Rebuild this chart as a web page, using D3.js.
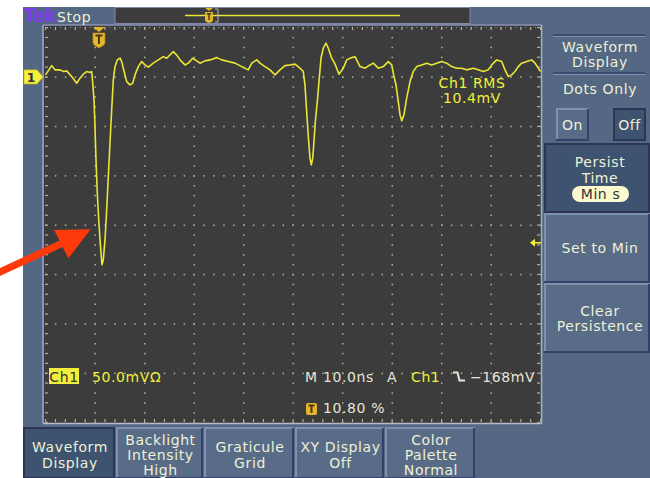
<!DOCTYPE html>
<html><head><meta charset="utf-8">
<script src="https://cdn.jsdelivr.net/npm/d3@7"></script>
<style>
html,body{margin:0;padding:0;background:#fff;}
svg{display:block;font-family:"DejaVu Sans",sans-serif;}
</style></head>
<body>
<svg id="c" width="650" height="478"></svg>
<script>
// ---- data (time in ns across the 100 ns record, voltage in mV) ----
const times = [0,1.25,1.92,2.93,3.6,4.28,5.29,6.3,6.97,7.64,8.32,8.99,9.33,9.54,9.8,10.0,10.2,10.46,10.75,11.01,11.21,11.41,11.68,12.02,12.36,12.69,13.03,13.37,13.7,14.04,14.5,15.05,15.39,15.72,16.4,17.07,17.62,18.08,18.75,19.43,20.1,20.77,21.78,22.79,23.8,24.48,25.82,26.5,27.17,28.18,28.85,29.74,30.55,31.21,32.22,33.23,34.59,35.6,36.93,38.28,39.64,40.97,41.66,42.67,43.33,44.34,45.35,46.36,47.37,48.38,49.39,50.4,51.41,52.08,52.42,52.63,52.89,53.17,53.43,53.7,53.98,54.24,54.51,54.91,55.31,55.66,56.12,56.67,57.13,57.82,58.48,59.29,60.16,60.85,61.52,62.53,63.54,64.55,65.56,66.22,67.23,68.24,69.25,69.94,70.26,70.81,71.27,71.62,71.96,72.42,72.97,73.64,74.3,74.99,76.0,77.01,78.02,79.03,80.04,81.05,82.06,83.07,84.08,85.09,86.42,87.43,88.44,89.45,90.14,91.15,92.16,92.83,93.49,94.18,94.85,95.52,96.2,97.21,98.22,98.89,99.56,100];
const voltages = [2,11.4,7.1,7.1,5.4,6.1,0.3,-6.4,-1.3,2.7,5.4,4.4,5.4,-6.1,-23.3,-50.3,-84,-117.4,-144.7,-165,-178,-190.3,-185.2,-165,-134.6,-100.9,-66.8,-33.4,-3,10.4,17.2,18.9,15.5,8.8,-4.8,-8.1,-6.4,2,10.4,15.5,12.1,9.8,13.9,17.2,20.5,18.9,25.6,22.3,17.2,12.1,13.9,18.9,16.2,13.9,16.2,17.2,19.5,17.2,15.5,13.9,10.4,7.1,13.9,17.2,13.9,10.4,7.1,2,7.1,11.4,12.1,12.9,8.8,5.4,-8.1,-25,-45.2,-65.5,-82.3,-89.1,-82.3,-65.5,-45.2,-25,-1.3,18.9,29,34.1,29,18.9,13.2,2.7,8.8,17.2,18.9,20.5,10.4,8.8,12.1,13.9,8.8,10.4,15.5,12.1,3.7,-8.1,-25,-38.5,-44.5,-38.5,-21.6,-4.8,5.4,10.4,12.1,13.9,12.1,13.9,15.5,13.9,10.4,8.8,8.8,7.1,8.8,7.1,5.4,7.1,12.1,17.2,15.5,7.1,0.3,2,5.4,10.4,13.9,15.5,17.2,13.9,8.8,5.4];
const timeTicks = [0,10,20,30,40,50,60,70,80,90,100];
const voltTicks = [-350,-300,-250,-200,-150,-100,-50,0,50];
const triggerLevel = -168;     // mV
const triggerPos = 10.8;       // percent of record
const headerTexts = ["Tek","Stop"];
const sideMenu = [["Waveform","Display"],["Dots Only"],["Persist","Time"],["Set to Min"],["Clear","Persistence"]];
const bottomMenu = [["Waveform","Display"],["Backlight","Intensity","High"],["Graticule","Grid"],["XY Display","Off"],["Color","Palette","Normal"]];
const readouts = {rmsLabel:"Ch1 RMS", rmsValue:"10.4mV", scale:"50.0mVΩ", time:"10.0ns", trig:"−168mV", pos:"10.80 %"};

// ---- drawing ----
const svg = d3.select("#c");
const W=650,H=478;
const BLUE="#546884", DARK="#3d536f", CREAM="#eef0d6", YEL="#f2f03a", GOLD="#e6b52c";
const FS=14, LS=0.6;
svg.append("rect").attr("x",0).attr("y",0).attr("width",W).attr("height",H).attr("fill","#fff");
svg.append("rect").attr("x",23).attr("y",7).attr("width",W-23).attr("height",H-7).attr("fill",BLUE);

const x = d3.scaleLinear().domain([0,100]).range([45.5,540.5]);
const y = d3.scaleLinear().domain([-350,50]).range([422.5,27.5]);

// graticule
svg.append("rect").attr("x",43).attr("y",25).attr("width",498).attr("height",398).attr("fill","#3c3c3c");
svg.append("line").attr("x1",43).attr("x2",43).attr("y1",25).attr("y2",423).attr("stroke","#8e90c4").attr("stroke-width",2);
svg.append("line").attr("x1",43).attr("x2",542).attr("y1",25).attr("y2",25).attr("stroke","#8e90b8").attr("stroke-width",1.5);
svg.append("line").attr("x1",541.5).attr("x2",541.5).attr("y1",25).attr("y2",424).attr("stroke","#a8b0c8").attr("stroke-width",1.5);
svg.append("line").attr("x1",43).attr("x2",542).attr("y1",423.5).attr("y2",423.5).attr("stroke","#b8bcc8").attr("stroke-width",1.5);

const g = svg.append("g");
const dotC = "#b2b29c";
timeTicks.slice(1,-1).forEach(t=>{
  d3.range(-350,50.01,10).forEach(v=>{
    g.append("rect").attr("x",x(t)-0.5).attr("y",y(v)-0.5).attr("width",1.5).attr("height",1.5).attr("fill",dotC);
  });
});
voltTicks.slice(1,-1).forEach(v=>{
  d3.range(0,100.01,2).forEach(t=>{
    g.append("rect").attr("x",x(t)-0.5).attr("y",y(v)-0.5).attr("width",1.5).attr("height",1.5).attr("fill",dotC);
  });
});
d3.range(0,100.01,2).forEach(t=>{
  g.append("rect").attr("x",x(t)-0.5).attr("y",27).attr("width",1.2).attr("height",3).attr("fill",dotC);
  g.append("rect").attr("x",x(t)-0.5).attr("y",419).attr("width",1.2).attr("height",3).attr("fill",dotC);
});
d3.range(-350,50.01,10).forEach(v=>{
  g.append("rect").attr("x",45).attr("y",y(v)-0.5).attr("width",3).attr("height",1.2).attr("fill",dotC);
  g.append("rect").attr("x",537).attr("y",y(v)-0.5).attr("width",3).attr("height",1.2).attr("fill",dotC);
});
d3.range(0,100.01,1).forEach(t=>{
  g.append("rect").attr("x",x(t)-0.4).attr("y",27).attr("width",0.9).attr("height",1).attr("fill",dotC);
});

// waveform
const pts = times.map((t,i)=>[t,voltages[i]]);
svg.append("path").datum(pts)
  .attr("d",d3.line().x(d=>x(d[0])).y(d=>y(d[1])))
  .attr("fill","none").attr("stroke","#e9e635").attr("stroke-width",1.6).attr("stroke-linejoin","round");

// channel 1 ground marker
const gy = y(0);
svg.append("path").attr("d",`M24,${gy-7}H37L43,${gy}L37,${gy+7}H24Z`).attr("fill","#f7f03c").attr("stroke","#c8b820").attr("stroke-width",0.8);
svg.append("text").attr("x",31).attr("y",gy+5).attr("text-anchor","middle").attr("font-size",13).attr("font-weight","bold").attr("fill","#333").text("1");

// trigger level marker
const ty = y(triggerLevel);
svg.append("path").attr("d",`M530,${ty}L535,${ty-4}L535,${ty+4}Z`).attr("fill",YEL);
svg.append("line").attr("x1",534).attr("x2",541).attr("y1",ty).attr("y2",ty).attr("stroke",YEL).attr("stroke-width",1.5);

// trigger position marker (top)
const tx = x(triggerPos);
svg.append("path").attr("d",`M${tx-6},27H${tx+6}L${tx},32Z`).attr("fill",GOLD);
svg.append("path").attr("d",`M${tx-6},33H${tx+6}V43Q${tx+6},45 ${tx},48Q${tx-6},45 ${tx-6},43Z`).attr("fill",GOLD).attr("stroke","#c08a10").attr("stroke-width",0.6);
svg.append("path").attr("d",`M${tx-3.5},35.5H${tx+3.5}M${tx},35.5V44`).attr("stroke","#4a3a10").attr("stroke-width",2);

function txt(s,xx,yy,color,anchor){
  return svg.append("text").attr("x",xx).attr("y",yy).attr("text-anchor",anchor||"start").attr("font-size",FS).attr("letter-spacing",LS).attr("fill",color).text(s);
}
// readouts
txt(readouts.rmsLabel,472,88,YEL,"middle");
txt(readouts.rmsValue,472,103,YEL,"middle");

svg.append("rect").attr("x",49).attr("y",368).attr("width",30).attr("height",16).attr("fill","#f2ee3a");
txt("Ch1",64,381.5,"#333","middle");
txt(readouts.scale,92,382,YEL);
txt("M",305,382,"#e6e6d8");
txt(readouts.time,323,382,"#e6e6d8");
txt("A",387,382,"#e6e6d8");
txt("Ch1",411,382,YEL);
svg.append("path").attr("d","M453,372.5H457.5L459.5,380.5H465").attr("fill","none").attr("stroke","#e6e6d8").attr("stroke-width",2);
txt(readouts.trig,470,382,"#e6e6d8");
svg.append("rect").attr("x",306).attr("y",403).attr("width",11).attr("height",12).attr("rx",2).attr("fill",GOLD);
svg.append("path").attr("d","M308.5,405.5H314.5M311.5,405.5V413").attr("stroke","#4a3a10").attr("stroke-width",2);
txt(readouts.pos,323,413,"#e6e6d8");

// header
svg.append("text").attr("x",23).attr("y",22).attr("font-size",19).attr("font-weight","bold").attr("fill","#7a3fe6").attr("letter-spacing",-1).text(headerTexts[0]);
txt(headerTexts[1],57,22,CREAM);
svg.append("rect").attr("x",115).attr("y",7.5).attr("width",355).attr("height",16).attr("fill","#3c3c3c").attr("stroke","#8088a8").attr("stroke-width",1);
svg.append("line").attr("x1",185).attr("x2",400).attr("y1",15.5).attr("y2",15.5).attr("stroke","#e8e23a").attr("stroke-width",1.3);
svg.append("path").attr("d","M205,8H213L209,11Z").attr("fill",GOLD);
svg.append("path").attr("d","M205,12H213V20Q213,22 209,23Q205,22 205,20Z").attr("fill",GOLD);
svg.append("path").attr("d","M206.8,13.8H211.2M209,13.8V20").attr("stroke","#4a3a10").attr("stroke-width",1.4);
svg.append("path").attr("d","M215,9H218V22H215").attr("fill","none").attr("stroke","#b8b8b0").attr("stroke-width",1);

// bevel box helper
function box(x0,y0,w,h,selected){
  const gg = svg.append("g");
  gg.append("rect").attr("x",x0).attr("y",y0).attr("width",w).attr("height",h).attr("fill",selected?DARK:"#586c88");
  if(selected){
    gg.append("rect").attr("x",x0+1).attr("y",y0+1).attr("width",w-2).attr("height",h-2).attr("fill","none").attr("stroke","#2c3558").attr("stroke-width",2);
  } else {
    gg.append("path").attr("d",`M${x0+1},${y0+h}V${y0+1}H${x0+w}`).attr("fill","none").attr("stroke","#7f91ae").attr("stroke-width",2);
    gg.append("path").attr("d",`M${x0+w-1},${y0+1}V${y0+h-1}H${x0}`).attr("fill","none").attr("stroke","#33406a").attr("stroke-width",2);
  }
  return gg;
}
function lines(arr,cx,y0,dy,color){
  arr.forEach((s,i)=>txt(s,cx,y0+i*dy,color||CREAM,"middle"));
}

// side menu
svg.append("line").attr("x1",553).attr("x2",645).attr("y1",35).attr("y2",35).attr("stroke","#34406a").attr("stroke-width",1.5);
svg.append("line").attr("x1",553).attr("x2",645).attr("y1",73).attr("y2",73).attr("stroke","#34406a").attr("stroke-width",1.5);
svg.append("line").attr("x1",553).attr("x2",645).attr("y1",36.5).attr("y2",36.5).attr("stroke","#7f91ae").attr("stroke-width",1);
svg.append("line").attr("x1",553).attr("x2",645).attr("y1",74.5).attr("y2",74.5).attr("stroke","#7f91ae").attr("stroke-width",1);
lines(sideMenu[0],600,52,15);
lines(sideMenu[1],600,94,15);
box(556,108,33,33,false);
box(613,108,33,33,true);
lines(["On"],572.5,130,15);
lines(["Off"],629.5,130,15);
box(544,143,106,70,true);
lines(sideMenu[2],600,167,16);
svg.append("rect").attr("x",572).attr("y",186).attr("width",57).attr("height",16).attr("rx",8).attr("fill","#fdf9cf");
lines(["Min s"],600.5,199,15,"#333");
box(544,213,106,70,false);
lines(sideMenu[3],600,253,15);
box(544,283,106,70,false);
lines(sideMenu[4],600,316,15);

// bottom menu
const bx = [[23,92],[116,87],[204,90],[295,89],[385,90]];
bottomMenu.forEach((m,i)=>{
  box(bx[i][0],427,bx[i][1],52,i===0);
  const cx = bx[i][0]+bx[i][1]/2+1;
  if(m.length===3) lines(m,cx,444.5,15.3);
  else lines(m,cx,452,16);
});

// red annotation arrow
svg.append("path").attr("d","M-5,270.2L59.7,240.6L54,230L90.7,229.3L68.3,258.3L62.6,247L-2,277Z").attr("fill","#ff3a0a");
</script>
</body></html>
